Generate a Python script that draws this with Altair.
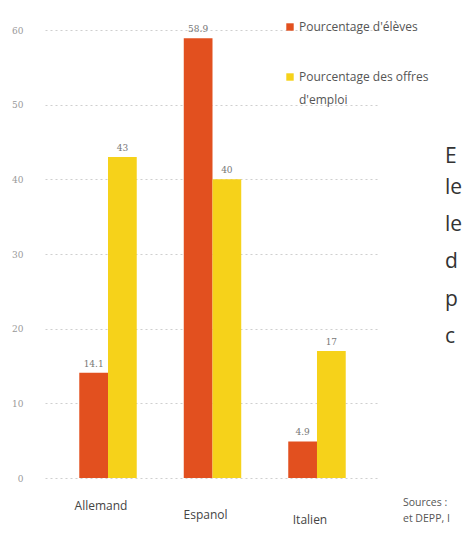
import altair as alt
import pandas as pd

categories = ["Allemand", "Espanol", "Italien"]
series = ["Pourcentage d'élèves", "Pourcentage des offres d'emploi"]
eleves = [14.1, 58.9, 4.9]
offres = [43, 40, 17]
y_ticks = [0, 10, 20, 30, 40, 50, 60]
side_letters = ["E", "le", "le", "d", "p", "c"]
source_lines = ["Sources :", "et DEPP, I"]

rows = []
for c, a, b in zip(categories, eleves, offres):
    rows.append({"cat": c, "serie": series[0], "val": a, "lab": f"{a:g}"})
    rows.append({"cat": c, "serie": series[1], "val": b, "lab": f"{b:g}"})
df = pd.DataFrame(rows)

RED = "#E2501F"
YEL = "#F6D21A"
FONT = "Open Sans"

xs = alt.X("cat:N", sort=categories, axis=None,
           scale=alt.Scale(paddingInner=0.45, paddingOuter=0.328))
xo = alt.XOffset("serie:N", sort=series, scale=alt.Scale(domain=series, paddingInner=0))
ys = alt.Y("val:Q", scale=alt.Scale(domain=[0, 60], nice=False),
           axis=alt.Axis(values=y_ticks, grid=True, gridDash=[2, 3], gridColor="#cfcfcf",
                         domain=False, ticks=False, labelColor="#999999", labelFontSize=9,
                         labelFont="DejaVu Serif", labelPadding=22, title=None))

bars = alt.Chart(df).mark_bar().encode(
    x=xs, xOffset=xo, y=ys,
    color=alt.Color("serie:N", sort=series,
                    scale=alt.Scale(domain=series, range=[RED, YEL]), legend=None),
)

vals = alt.Chart(df).mark_text(dy=-9, fontSize=9, color="#777777", font="DejaVu Serif").encode(
    x=xs, xOffset=xo, y=alt.Y("val:Q"), text="lab:N"
)

cat_df = pd.DataFrame({"cat": categories})
cats = alt.Chart(cat_df).transform_calculate(
    ly="datum.cat == 'Allemand' ? 476 : (datum.cat == 'Espanol' ? 485 : 490)"
).mark_text(dx=-7, fontSize=12, color="#444444", font=FONT).encode(
    x=alt.X("cat:N", sort=categories), y=alt.Y("ly:Q", scale=None), text="cat:N"
)

one = alt.Data(values=[{"k": 1}])

def sq(x, y, color):
    return alt.Chart(one).mark_square(size=55, color=color, opacity=1).encode(
        x=alt.value(x), y=alt.value(y))

def txt(s, x, y, size=12, color="#555555", align="left", weight="normal", font=FONT):
    return alt.Chart(one).mark_text(text=s, align=align, baseline="middle", fontSize=size,
                                    color=color, fontWeight=weight, font=font).encode(
        x=alt.value(x), y=alt.value(y))

legend = [
    sq(245, -3, RED),
    txt("Pourcentage d'élèves", 254, -3),
    sq(245, 47, YEL),
    txt("Pourcentage des offres", 254, 47),
    txt("d'emploi", 254, 70),
]

letter_y = [127, 158, 195, 232, 270, 307]
letters = [txt(s, 400, y, size=21, color="#333333")
           for s, y in zip(side_letters, letter_y)]

sources = [txt(source_lines[0], 358, 473, size=10.5, color="#555555"),
           txt(source_lines[1], 358, 489, size=10.5, color="#555555")]

chart = alt.layer(bars, vals, cats, *legend, *letters, *sources).properties(
    width=335, height=448,
    autosize=alt.AutoSizeParams(type="none"),
    padding={"left": 37, "top": 22, "right": 87, "bottom": 50},
    background="white",
).configure_view(stroke=None)

chart.save("out.html", embed_options={"renderer": "svg", "actions": False})
